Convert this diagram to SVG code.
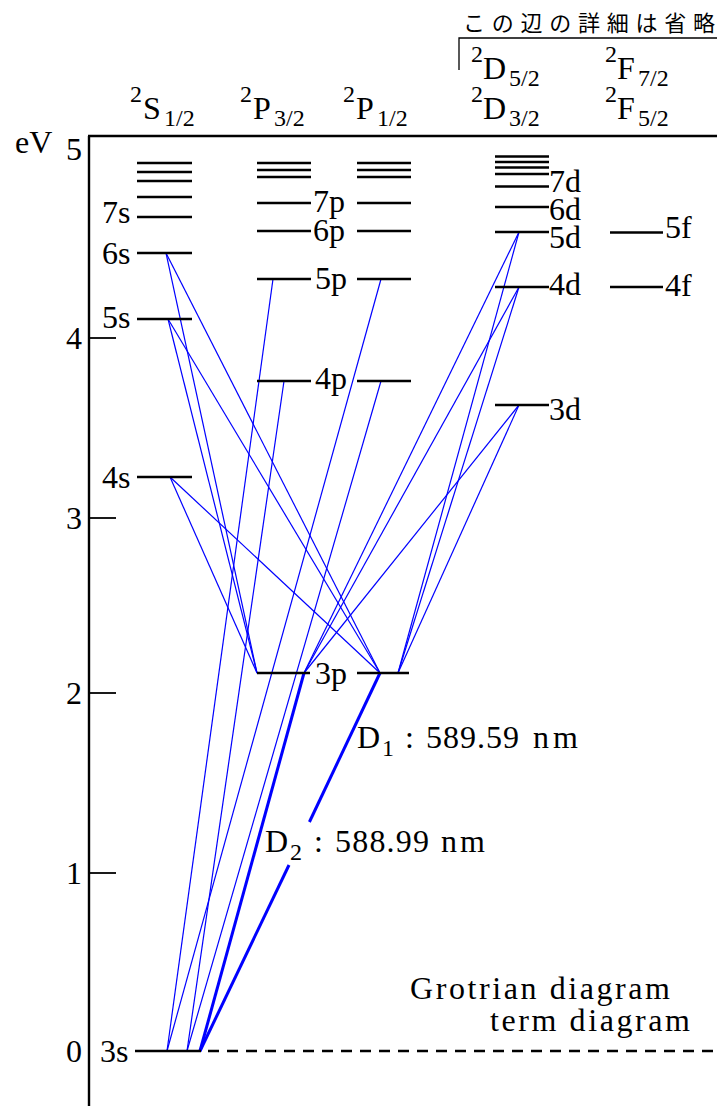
<svg xmlns="http://www.w3.org/2000/svg" width="717" height="1106" viewBox="0 0 717 1106" font-family="Liberation Serif">
<style>
.lv{stroke:#000;stroke-width:2.6;fill:none}
.ax{stroke:#000;stroke-width:2.4;fill:none}
.tk{stroke:#000;stroke-width:1.8;fill:none}
text{font-family:"Liberation Serif";font-size:32px;fill:#000}
.s{font-size:24px}
.jp{font-family:"Noto Sans CJK JP","Noto Sans CJK SC",sans-serif;font-size:22px}
.tr{stroke:#00f;stroke-width:1.2;fill:none}
.th{stroke:#00f;stroke-width:3;fill:none}
</style>
<rect width="717" height="1106" fill="#fff"/>

<g id="axis">
  <line class="ax" x1="89" y1="136" x2="89" y2="1106"/>
  <line class="ax" x1="88" y1="136" x2="717" y2="136"/>
  <line class="tk" x1="89" y1="338" x2="116" y2="338"/>
  <line class="tk" x1="89" y1="518" x2="116" y2="518"/>
  <line class="tk" x1="89" y1="693" x2="116" y2="693"/>
  <line class="tk" x1="89" y1="873" x2="116" y2="873"/>
  <text x="15" y="153">eV</text>
  <text x="82" y="160" text-anchor="end">5</text>
  <text x="82" y="349" text-anchor="end">4</text>
  <text x="82" y="529" text-anchor="end">3</text>
  <text x="82" y="704" text-anchor="end">2</text>
  <text x="82" y="884" text-anchor="end">1</text>
  <text x="82" y="1062" text-anchor="end">0</text>
</g>

<g id="headers">
  <text class="jp" x="463" y="31" textLength="252" lengthAdjust="spacing">この辺の詳細は省略</text>
  <polyline points="459,70 459,38 717,38" fill="none" stroke="#000" stroke-width="1.3"/>
  <text><tspan class="s" x="130" y="102">2</tspan><tspan x="143" y="119">S</tspan><tspan class="s" x="164" y="126">1/2</tspan></text>
  <text><tspan class="s" x="240" y="102">2</tspan><tspan x="253" y="119">P</tspan><tspan class="s" x="274" y="126">3/2</tspan></text>
  <text><tspan class="s" x="343" y="102">2</tspan><tspan x="356" y="119">P</tspan><tspan class="s" x="377" y="126">1/2</tspan></text>
  <text><tspan class="s" x="471" y="102">2</tspan><tspan x="483" y="119">D</tspan><tspan class="s" x="509" y="126">3/2</tspan></text>
  <text><tspan class="s" x="605" y="102">2</tspan><tspan x="617" y="119">F</tspan><tspan class="s" x="638" y="126">5/2</tspan></text>
  <text><tspan class="s" x="471" y="62">2</tspan><tspan x="483" y="79">D</tspan><tspan class="s" x="509" y="86">5/2</tspan></text>
  <text><tspan class="s" x="605" y="62">2</tspan><tspan x="617" y="79">F</tspan><tspan class="s" x="638" y="86">7/2</tspan></text>
</g>

<g id="connectors">
  <line class="tr" x1="167" y1="1051" x2="273" y2="279"/>
  <line class="tr" x1="167" y1="1051" x2="381" y2="279"/>
  <line class="tr" x1="187" y1="1051" x2="284" y2="381"/>
  <line class="tr" x1="187" y1="1051" x2="381" y2="381"/>
  <line class="tr" x1="166" y1="253" x2="257" y2="673"/>
  <line class="tr" x1="166" y1="253" x2="380" y2="673"/>
  <line class="tr" x1="168" y1="319" x2="257" y2="673"/>
  <line class="tr" x1="168" y1="319" x2="380" y2="673"/>
  <line class="tr" x1="170" y1="477" x2="257" y2="673"/>
  <line class="tr" x1="170" y1="477" x2="380" y2="673"/>
  <line class="tr" x1="519" y1="232" x2="304" y2="673"/>
  <line class="tr" x1="519" y1="232" x2="398" y2="673"/>
  <line class="tr" x1="519" y1="287" x2="304" y2="673"/>
  <line class="tr" x1="519" y1="287" x2="398" y2="673"/>
  <line class="tr" x1="519" y1="405" x2="304" y2="673"/>
  <line class="tr" x1="519" y1="405" x2="398" y2="673"/>
  <line class="th" x1="200" y1="1051" x2="304" y2="673"/>
  <line class="th" x1="200" y1="1051" x2="289" y2="865"/>
  <line class="th" x1="309.4" y1="822" x2="380" y2="673"/>
</g>

<g id="level-S-high">
  <line class="lv" x1="137" y1="163" x2="192" y2="163"/>
  <line class="lv" x1="137" y1="172" x2="192" y2="172"/>
  <line class="lv" x1="137" y1="181" x2="192" y2="181"/>
  <line class="lv" x1="137" y1="197" x2="192" y2="197"/>
</g>
<g id="level-7s"><line class="lv" x1="137" y1="217" x2="192" y2="217"/><text x="102" y="223">7s</text></g>
<g id="level-6s"><line class="lv" x1="137" y1="253" x2="192" y2="253"/><text x="102" y="264">6s</text></g>
<g id="level-5s"><line class="lv" x1="137" y1="319" x2="192" y2="319"/><text x="102" y="328">5s</text></g>
<g id="level-4s"><line class="lv" x1="137" y1="477" x2="192" y2="477"/><text x="102" y="488">4s</text></g>
<g id="level-3s">
  <line class="lv" x1="135" y1="1051" x2="201" y2="1051"/>
  <line class="lv" x1="208" y1="1051" x2="717" y2="1051" stroke-dasharray="11 8"/>
  <text x="100" y="1062">3s</text>
</g>

<g id="level-P32-high">
  <line class="lv" x1="257" y1="163" x2="311" y2="163"/>
  <line class="lv" x1="257" y1="170" x2="311" y2="170"/>
  <line class="lv" x1="257" y1="177" x2="311" y2="177"/>
</g>
<g id="level-P12-high">
  <line class="lv" x1="357" y1="163" x2="411" y2="163"/>
  <line class="lv" x1="357" y1="170" x2="411" y2="170"/>
  <line class="lv" x1="357" y1="177" x2="411" y2="177"/>
</g>
<g id="level-7p"><line class="lv" x1="257" y1="203" x2="311" y2="203"/><line class="lv" x1="357" y1="203" x2="411" y2="203"/><text x="313" y="212">7p</text></g>
<g id="level-6p"><line class="lv" x1="257" y1="231" x2="311" y2="231"/><line class="lv" x1="357" y1="231" x2="411" y2="231"/><text x="313" y="241">6p</text></g>
<g id="level-5p"><line class="lv" x1="257" y1="279" x2="311" y2="279"/><line class="lv" x1="357" y1="279" x2="411" y2="279"/><text x="315" y="289">5p</text></g>
<g id="level-4p"><line class="lv" x1="257" y1="381" x2="311" y2="381"/><line class="lv" x1="357" y1="381" x2="411" y2="381"/><text x="315" y="389">4p</text></g>
<g id="level-3p"><line class="lv" x1="257" y1="673" x2="310" y2="673"/><line class="lv" x1="357" y1="673" x2="409" y2="673"/><text x="315" y="684">3p</text></g>

<g id="level-D-high">
  <line class="lv" x1="495" y1="156.5" x2="549" y2="156.5"/>
  <line class="lv" x1="495" y1="162" x2="549" y2="162"/>
  <line class="lv" x1="495" y1="167.5" x2="549" y2="167.5"/>
  <line class="lv" x1="495" y1="174" x2="549" y2="174"/>
</g>
<g id="level-7d"><line class="lv" x1="495" y1="186.5" x2="549" y2="186.5"/><text x="549" y="192">7d</text></g>
<g id="level-6d"><line class="lv" x1="495" y1="207" x2="549" y2="207"/><text x="549" y="220">6d</text></g>
<g id="level-5d"><line class="lv" x1="495" y1="232" x2="549" y2="232"/><text x="549" y="248">5d</text></g>
<g id="level-4d"><line class="lv" x1="495" y1="287" x2="549" y2="287"/><text x="549" y="295">4d</text></g>
<g id="level-3d"><line class="lv" x1="495" y1="405" x2="549" y2="405"/><text x="549" y="420">3d</text></g>
<g id="level-5f"><line class="lv" x1="610" y1="232.5" x2="663" y2="232.5"/><text x="665" y="238">5f</text></g>
<g id="level-4f"><line class="lv" x1="610" y1="287" x2="663" y2="287"/><text x="665" y="296">4f</text></g>

<g id="label-D1">
  <text x="357" y="748">D</text>
  <text class="s" x="382" y="756">1</text>
  <text x="405" y="748">:</text>
  <text x="426" y="748" textLength="93">589.59</text>
  <text x="533" y="748" textLength="45">nm</text>
</g>
<g id="label-D2">
  <text x="265" y="852">D</text>
  <text class="s" x="290" y="860">2</text>
  <text x="314" y="852">:</text>
  <text x="335" y="852" textLength="94">588.99</text>
  <text x="441" y="852" textLength="44">nm</text>
</g>
<g id="caption">
  <text x="410" y="999" textLength="260">Grotrian diagram</text>
  <text x="490" y="1031" textLength="200">term diagram</text>
</g>
</svg>
